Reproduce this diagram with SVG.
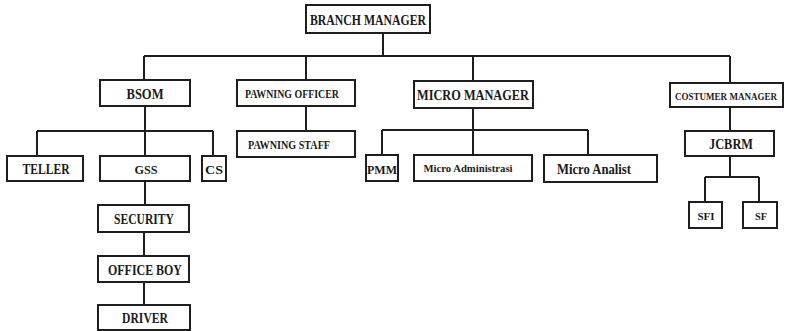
<svg xmlns="http://www.w3.org/2000/svg" width="787" height="331" viewBox="0 0 787 331">
<style>
.b{fill:#fff;stroke:#1e1e1e;stroke-width:2}
.t{font-family:"Liberation Serif","DejaVu Serif",serif;font-weight:bold;fill:#1a1a1a;text-anchor:middle;dominant-baseline:central}
.c{fill:none;stroke:#1e1e1e;stroke-width:2}
</style>
<rect width="787" height="331" fill="#fff"/>
<g id="connectors">
<path class="c" d="M383 33V56M144 56H730M144 56V80M306 56V80M473 56V81M730 56V83"/>
<path class="c" d="M145 106V131M37 131H213M37 131V156M145 131V156M213 131V156"/>
<path class="c" d="M145 181V205M144 232V256M144 282V305"/>
<path class="c" d="M306 106V131"/>
<path class="c" d="M473 108V130M382 130H588M382 130V155M473 130V155M588 130V155"/>
<path class="c" d="M730 107V131M730 156V177M705 177H759M705 177V202M759 177V202"/>
</g>
<g id="branch-manager"><rect class="b" x="306" y="5" width="124" height="28"/><text class="t" x="368" y="20" font-size="15" textLength="116" lengthAdjust="spacingAndGlyphs">BRANCH MANAGER</text></g>
<g id="bsom"><rect class="b" x="100" y="80" width="90" height="26"/><text class="t" x="145" y="94" font-size="14" textLength="37" lengthAdjust="spacingAndGlyphs">BSOM</text></g>
<g id="pawning-officer"><rect class="b" x="237" y="80" width="118" height="26"/><text class="t" x="292" y="94" font-size="12" textLength="94" lengthAdjust="spacingAndGlyphs">PAWNING OFFICER</text></g>
<g id="micro-manager"><rect class="b" x="414" y="81" width="119" height="27"/><text class="t" x="473" y="95" font-size="14" textLength="112" lengthAdjust="spacingAndGlyphs">MICRO MANAGER</text></g>
<g id="costumer-manager"><rect class="b" x="670" y="83" width="113" height="24"/><text class="t" x="726" y="96" font-size="10" textLength="102" lengthAdjust="spacingAndGlyphs">COSTUMER MANAGER</text></g>
<g id="teller"><rect class="b" x="7" y="156" width="76" height="25"/><text class="t" x="46" y="169" font-size="14" textLength="47" lengthAdjust="spacingAndGlyphs">TELLER</text></g>
<g id="gss"><rect class="b" x="100" y="156" width="90" height="25"/><text class="t" x="146" y="169" font-size="13" textLength="23" lengthAdjust="spacingAndGlyphs">GSS</text></g>
<g id="cs"><rect class="b" x="202" y="156" width="24" height="25"/><text class="t" x="214" y="169" font-size="13" textLength="18" lengthAdjust="spacingAndGlyphs">CS</text></g>
<g id="pawning-staff"><rect class="b" x="237" y="131" width="118" height="26"/><text class="t" x="289" y="145" font-size="12" textLength="82" lengthAdjust="spacingAndGlyphs">PAWNING STAFF</text></g>
<g id="pmm"><rect class="b" x="366" y="155" width="32" height="26"/><text class="t" x="382" y="169" font-size="13" textLength="30" lengthAdjust="spacingAndGlyphs">PMM</text></g>
<g id="micro-administrasi"><rect class="b" x="414" y="155" width="118" height="26"/><text class="t" x="468" y="168" font-size="11" textLength="89" lengthAdjust="spacingAndGlyphs">Micro Administrasi</text></g>
<g id="micro-analist"><rect class="b" x="544" y="155" width="113" height="27"/><text class="t" x="594" y="169" font-size="14" textLength="74" lengthAdjust="spacingAndGlyphs">Micro Analist</text></g>
<g id="jcbrm"><rect class="b" x="685" y="131" width="89" height="25"/><text class="t" x="731" y="144" font-size="14" textLength="44" lengthAdjust="spacingAndGlyphs">JCBRM</text></g>
<g id="sfi"><rect class="b" x="689" y="202" width="33" height="26"/><text class="t" x="706" y="216" font-size="11" textLength="17" lengthAdjust="spacingAndGlyphs">SFI</text></g>
<g id="sf"><rect class="b" x="743" y="202" width="34" height="26"/><text class="t" x="761" y="216" font-size="11" textLength="12" lengthAdjust="spacingAndGlyphs">SF</text></g>
<g id="security"><rect class="b" x="98" y="205" width="91" height="27"/><text class="t" x="144" y="219" font-size="14" textLength="60" lengthAdjust="spacingAndGlyphs">SECURITY</text></g>
<g id="office-boy"><rect class="b" x="98" y="256" width="91" height="26"/><text class="t" x="145" y="270" font-size="14" textLength="74" lengthAdjust="spacingAndGlyphs">OFFICE BOY</text></g>
<g id="driver"><rect class="b" x="98" y="305" width="92" height="25"/><text class="t" x="145" y="318" font-size="14" textLength="46" lengthAdjust="spacingAndGlyphs">DRIVER</text></g>
</svg>
